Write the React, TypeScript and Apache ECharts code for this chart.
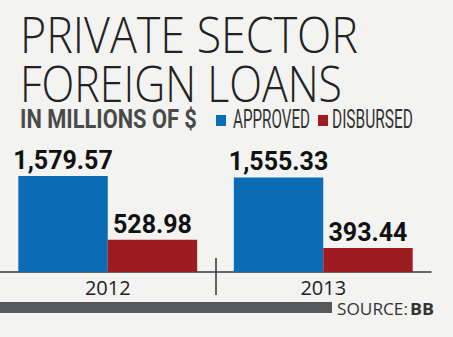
import React, { useEffect, useRef } from "react";
import * as echarts from "echarts";

const categories = ["2012", "2013"];
const approved = [1579.57, 1555.33];
const disbursed = [528.98, 393.44];
const seriesNames = ["APPROVED", "DISBURSED"];
const titleLines = ["PRIVATE SECTOR", "FOREIGN LOANS"];
const subtitle = "IN MILLIONS OF $";

const BLUE = "#0b6bb5";
const RED = "#9e1c21";

const fmt = (v: number) =>
  v.toLocaleString("en-US", { minimumFractionDigits: 2, maximumFractionDigits: 2 });

let ctx: CanvasRenderingContext2D | null = null;
function fit(text: string, font: string, target: number) {
  if (!ctx) ctx = document.createElement("canvas").getContext("2d");
  if (!ctx) return 1;
  ctx.font = font;
  const w = ctx.measureText(text).width;
  return w > 0 ? target / w : 1;
}

function fitText(
  text: string,
  x: number,
  y: number,
  width: number,
  family: string,
  weight: any,
  size: number,
  fill: string
) {
  const sx = fit(text, `${weight} ${size}px "${family}"`, width);
  return {
    type: "text",
    x,
    y,
    scaleX: sx,
    style: {
      text,
      fontFamily: family,
      fontWeight: weight,
      fontSize: size,
      fill,
      verticalAlign: "top",
      align: "left",
    },
  };
}

export default function App() {
  const ref = useRef<HTMLDivElement>(null);
  useEffect(() => {
    if (!ref.current) return;
    const chart = echarts.init(ref.current, undefined, { renderer: "svg" });
    const labelStyle = {
      show: true,
      position: "top" as const,
      distance: 3,
      fontFamily: "Roboto",
      fontWeight: "bold" as const,
      fontSize: 25,
      color: "#111",
      formatter: (p: any) => fmt(p.value),
    };
    chart.setOption({
      animation: false,
      backgroundColor: "#f3f3f1",
      grid: { left: 0, right: 22, top: 150.4, bottom: 65 },
      xAxis: {
        type: "category",
        data: categories,
        axisLine: { lineStyle: { color: "#3a3a3a", width: 1.5 } },
        axisTick: { show: false },
        axisLabel: {
          margin: 5,
          fontFamily: "Open Sans",
          fontSize: 20,
          color: "#222",
        },
      },
      yAxis: { type: "value", min: 0, max: 2000, show: false },
      series: [
        {
          name: seriesNames[0],
          type: "bar",
          data: approved,
          itemStyle: { color: BLUE },
          barGap: "0%",
          barCategoryGap: "17%",
          label: labelStyle,
        },
        {
          name: seriesNames[1],
          type: "bar",
          data: disbursed,
          itemStyle: { color: RED },
          label: labelStyle,
        },
      ],
      graphic: [
        fitText(titleLines[0], 20, 10, 338, "Open Sans", 300, 49, "#222"),
        fitText(titleLines[1], 20, 58, 322, "Open Sans", 300, 49, "#222"),
        fitText(subtitle, 20, 107, 177, "Roboto", "bold", 25, "#4a4a4a"),
        { type: "rect", x: 216, y: 115, shape: { width: 10, height: 11 }, style: { fill: BLUE } },
        fitText(seriesNames[0], 233, 107, 77, "Roboto", "normal", 25, "#333"),
        { type: "rect", x: 318, y: 115, shape: { width: 10, height: 11 }, style: { fill: RED } },
        fitText(seriesNames[1], 332, 107, 81, "Roboto", "normal", 25, "#333"),
        {
          type: "line",
          shape: { x1: 216, y1: 258, x2: 216, y2: 295 },
          style: { stroke: "#333", lineWidth: 1.5 },
        },
        { type: "rect", x: 0, y: 302, shape: { width: 332, height: 11 }, style: { fill: "#58595b" } },
        fitText("SOURCE:", 337, 301, 71, "Open Sans", "normal", 15.5, "#333"),
        fitText("BB", 410, 301, 24, "Open Sans", "bold", 15.5, "#333"),
      ],
    });
    return () => chart.dispose();
  }, []);
  return <div ref={ref} style={{ width: 453, height: 337, position: "absolute", left: 0, top: 0 }} />;
}
